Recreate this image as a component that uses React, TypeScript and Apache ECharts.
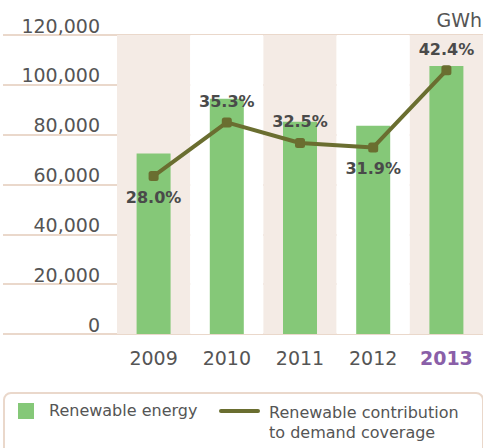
import React, { useEffect, useRef } from "react";
import * as echarts from "echarts";

const categories = ["2009", "2010", "2011", "2012", "2013"];
const renewableEnergy = [72400, 94400, 85200, 83600, 107600];
const contribution = [28.0, 35.3, 32.5, 31.9, 42.4];
const labelPositions = ["bottom", "top", "top", "bottom", "top"];
const yTicks = { min: 0, max: 120000, interval: 20000 };

const FONT = "DejaVu Sans";
const GRID_COLOR = "#ead8cb";
const BAND_COLOR = "#f4ebe5";
const BAR_COLOR = "#85c878";
const LINE_COLOR = "#6a6e30";
const TEXT_COLOR = "#555555";

export default function App() {
  const ref = useRef<HTMLDivElement>(null);
  useEffect(() => {
    if (!ref.current) return;
    const chart = echarts.init(ref.current, null, { renderer: "svg" });
    chart.setOption({
      animation: false,
      backgroundColor: "#ffffff",
      textStyle: { fontFamily: FONT },
      grid: { left: 117, right: 0, top: 35, bottom: 114, containLabel: false },
      xAxis: {
        type: "category",
        data: categories.map((c, i) =>
          i === categories.length - 1
            ? { value: c, textStyle: { color: "#8a5fa8", fontWeight: "bold" } }
            : c
        ),
        axisLine: { show: false },
        axisTick: { show: false },
        axisLabel: { color: TEXT_COLOR, fontSize: 19, fontFamily: FONT, margin: 14 },
        splitArea: { show: true, areaStyle: { color: [BAND_COLOR, "#ffffff"] } },
      },
      yAxis: [
        {
          type: "value",
          min: yTicks.min,
          max: yTicks.max,
          interval: yTicks.interval,
          axisLine: { show: false },
          axisTick: { show: true, length: 114, lineStyle: { color: GRID_COLOR, width: 2 } },
          axisLabel: {
            color: TEXT_COLOR,
            fontSize: 19,
            fontFamily: FONT,
            margin: 17,
            verticalAlign: "bottom",
            formatter: (v: number) => v.toLocaleString("en-US"),
          },
          splitLine: { show: true, lineStyle: { color: GRID_COLOR, width: 2 } },
        },
        {
          type: "value",
          min: 6.5,
          max: 47.2,
          show: false,
          splitLine: { show: false },
        },
      ],
      series: [
        {
          name: "Renewable energy",
          type: "bar",
          data: renewableEnergy,
          barWidth: 34,
          itemStyle: { color: BAR_COLOR },
        },
        {
          name: "Renewable contribution to demand coverage",
          type: "line",
          yAxisIndex: 1,
          data: contribution.map((v, i) => ({
            value: v,
            label: { position: labelPositions[i] },
          })),
          symbol: "roundRect",
          symbolSize: 10,
          lineStyle: { color: LINE_COLOR, width: 4 },
          itemStyle: { color: LINE_COLOR },
          z: 5,
          label: {
            show: true,
            distance: 8,
            fontFamily: FONT,
            fontSize: 16,
            fontWeight: "bold",
            color: "#4a4a4a",
            formatter: (p: any) => p.value.toFixed(1) + "%",
          },
        },
      ],
      graphic: [
        {
          type: "text",
          right: 1,
          top: 10,
          style: { text: "GWh", fontFamily: FONT, fontSize: 19, fill: TEXT_COLOR },
        },
        {
          type: "rect",
          left: 3,
          top: 392,
          shape: { width: 479, height: 70, r: 7 },
          style: { fill: "#ffffff", stroke: GRID_COLOR, lineWidth: 2 },
        },
        {
          type: "rect",
          left: 18,
          top: 403,
          shape: { width: 16, height: 16 },
          style: { fill: BAR_COLOR },
        },
        {
          type: "text",
          left: 49,
          top: 402,
          style: { text: "Renewable energy", fontFamily: FONT, fontSize: 16, fill: TEXT_COLOR },
        },
        {
          type: "line",
          shape: { x1: 221, y1: 411, x2: 258, y2: 411 },
          style: { stroke: LINE_COLOR, lineWidth: 4, lineCap: "round" },
        },
        {
          type: "text",
          left: 269,
          top: 402,
          style: {
            text: "Renewable contribution\nto demand coverage",
            fontFamily: FONT,
            fontSize: 16,
            lineHeight: 20,
            fill: TEXT_COLOR,
          },
        },
      ],
    });
    return () => chart.dispose();
  }, []);
  return (
    <div
      ref={ref}
      style={{ position: "fixed", left: 0, top: 0, width: 483, height: 448 }}
    />
  );
}
